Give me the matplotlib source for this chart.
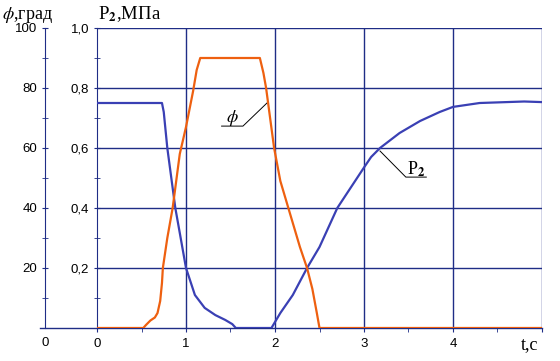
#! /usr/bin/env python3
"""Valve angle and pressure P2 vs time, two left axes."""
import matplotlib
matplotlib.use('Agg')
import matplotlib.pyplot as plt
from matplotlib.ticker import MultipleLocator, FixedLocator

plt.rcParams['mathtext.fontset'] = 'stix'

# P2, MPa
t_p2 = [0.0, 0.73, 0.75, 0.79, 0.88, 0.93, 1.0, 1.1, 1.21, 1.33, 1.44, 1.52, 1.56,
        1.96, 2.06, 2.2, 2.36, 2.5, 2.7, 2.9, 3.0, 3.08, 3.18, 3.4, 3.63, 3.85, 4.0,
        4.3, 4.8, 5.0]
p2 = [0.75, 0.75, 0.72, 0.6, 0.4, 0.317, 0.2, 0.11, 0.067, 0.043, 0.027, 0.013, 0.0,
      0.0, 0.05, 0.11, 0.2, 0.27, 0.4, 0.49, 0.535, 0.57, 0.6, 0.65, 0.69, 0.72, 0.737,
      0.75, 0.755, 0.753]

# phi, degrees
t_phi = [0.0, 0.52, 0.55, 0.6, 0.65, 0.68, 0.71, 0.73, 0.74, 0.79, 0.85, 0.93, 1.0,
         1.08, 1.12, 1.16, 1.83, 1.87, 1.9, 1.99, 2.06, 2.15, 2.28, 2.36, 2.42,
         2.47, 2.5, 5.0]
phi = [0, 0, 1, 2.5, 3.5, 5, 9, 15, 20, 30, 40, 58, 67,
       79, 86, 90, 90, 85, 80, 60, 49, 40, 27, 20, 13,
       5, 0, 0]

x_ticks = [0, 1, 2, 3, 4]
p_ticks = [0.2, 0.4, 0.6, 0.8, 1.0]
phi_ticks = [20, 40, 60, 80, 100]

NAVY = '#1f2d86'
BLUE = '#3a40b4'
ORANGE = '#ee6010'
TICK_FONT = dict(family='Liberation Sans', size=9.5)
SERIF = 'Liberation Serif'

fig = plt.figure(figsize=(5.6, 3.61), dpi=100)
ax = fig.add_axes([97 / 560, 33 / 361, 445 / 560, 300 / 361])
ax.set_xlim(0, 5)
ax.set_ylim(0, 1)
for s in ['top', 'right', 'bottom']:
    ax.spines[s].set_visible(False)
ax.spines['left'].set_color(NAVY)

# grid
for y in p_ticks:
    ax.axhline(y, color=NAVY, lw=1.0, zorder=1)
for x in x_ticks[1:] + [5]:
    ax.axvline(x, color=NAVY, lw=1.0, zorder=1)
ax.plot([-0.64, 5], [0, 0], color=NAVY, lw=1.0, clip_on=False, zorder=1)

ax.yaxis.set_major_locator(FixedLocator(p_ticks))
ax.yaxis.set_minor_locator(MultipleLocator(0.1))
ax.set_yticklabels([f'{v:.1f}'.replace('.', ',') for v in p_ticks], **TICK_FONT)
ax.tick_params(axis='y', which='both', direction='inout', length=5, color=NAVY, pad=3)
ax.xaxis.set_major_locator(FixedLocator(x_ticks + [5]))
ax.xaxis.set_minor_locator(MultipleLocator(0.5))
ax.set_xticklabels([str(v) for v in x_ticks] + [''], **TICK_FONT)
ax.tick_params(axis='x', which='both', direction='out', length=3, color=NAVY, pad=4)

ax.plot(t_p2, p2, color=BLUE, lw=1.6, zorder=3)

# phi axis
ax2 = ax.twinx()
ax2.set_ylim(0, 100)
for s in ['top', 'right', 'bottom']:
    ax2.spines[s].set_visible(False)
ax2.spines['left'].set_visible(True)
ax2.spines['left'].set_position(('outward', 52 * 0.72))
ax2.spines['left'].set_color(NAVY)
ax2.yaxis.tick_left()
ax2.yaxis.set_major_locator(FixedLocator(phi_ticks))
ax2.yaxis.set_minor_locator(MultipleLocator(10))
ax2.set_yticklabels([str(v) for v in phi_ticks], **TICK_FONT)
ax2.tick_params(axis='y', which='both', direction='inout', length=5, color=NAVY, pad=3)
ax2.plot(t_phi, phi, color=ORANGE, lw=1.6, zorder=4)

# axis titles
fig.text(2 / 560, 1 - 19 / 361, r'$\phi$,град', family=SERIF, size=13)
fig.text(98 / 560, 1 - 19 / 361, r'P$_\mathbf{2}$,МПа', family=SERIF, size=13.5)
fig.text(521 / 560, 1 - 349 / 361, 't,c', family=SERIF, size=13)
fig.text(45 / 560, 1 - 346 / 361, '0', ha='center', **TICK_FONT)

# leaders
ax.plot([1.40, 1.64, 1.91], [0.673, 0.673, 0.75], color='black', lw=0.7, zorder=5)
ax.text(1.52, 0.685, r'$\phi$', ha='center', va='baseline', size=13, zorder=5)
ax.plot([3.18, 3.47, 3.70], [0.59, 0.503, 0.503], color='black', lw=0.7, zorder=5)
ax.text(3.585, 0.512, r'P$_\mathbf{2}$', ha='center', va='baseline',
        family=SERIF, size=13, zorder=5)

fig.savefig('out.png', dpi=100)
